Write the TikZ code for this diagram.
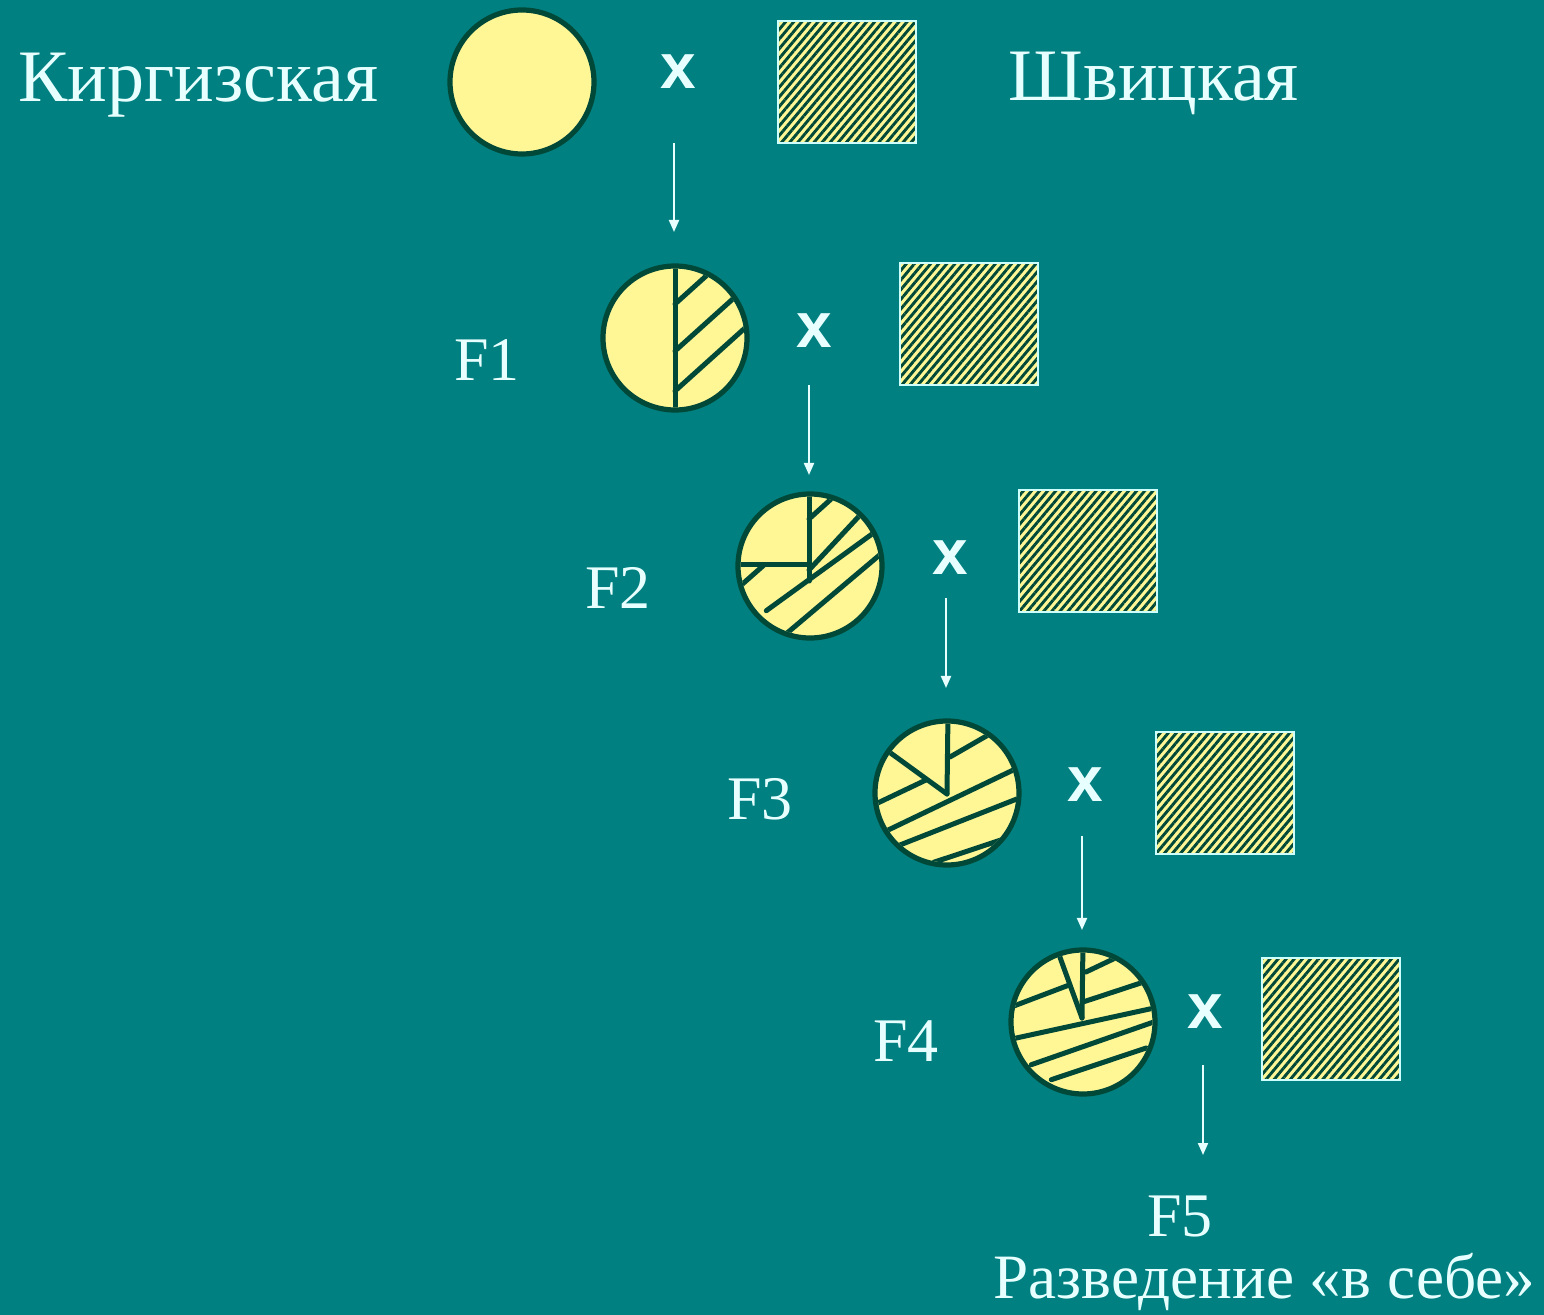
\documentclass[tikz,border=0pt]{standalone}
\usepackage{fontspec}
\setmainfont{Liberation Serif}
\newfontfamily\xsans{Liberation Sans}
\usetikzlibrary{arrows.meta,patterns.meta}
\definecolor{bgteal}{RGB}{0,128,128}
\definecolor{pale}{RGB}{255,246,150}
\definecolor{dkgreen}{RGB}{0,72,56}
\definecolor{txtc}{RGB}{232,255,255}
\definecolor{sqborder}{RGB}{205,255,255}
\begin{document}
\begin{tikzpicture}[x=0.5pt,y=-0.5pt,
  txt/.style={text=txtc, inner sep=0pt, font=\fontsize{37}{40}\selectfont},
  txtb/.style={text=txtc, inner sep=0pt, font=\fontsize{31.6}{34}\selectfont},
  flab/.style={text=txtc, inner sep=0pt, font=\fontsize{31}{34}\selectfont},
  cross/.style={text=txtc, inner sep=0pt, font=\xsans\bfseries\fontsize{32}{34}\selectfont},
  plant/.style={circle, draw=dkgreen, fill=pale, line width=2.6pt, minimum size=72pt, inner sep=0pt},
  hatchbox/.style={rectangle, draw=sqborder, line width=1pt, minimum width=69pt, minimum height=61pt, inner sep=0pt,
    preaction={fill=pale}, pattern={Lines[angle=50,distance=3.1pt,line width=1.45pt]}, pattern color=dkgreen},
  seg/.style={draw=dkgreen, line width=2.5pt, line cap=round},
  arr/.style={draw=txtc, line width=1pt, -{Triangle[length=6pt,width=5pt]}}]
\fill[bgteal] (0,0) rectangle (1544,1315);
\useasboundingbox (0,0) rectangle (1544,1315);

% texts
\node[txt, anchor=base west] (kirg) at (18,102) {Киргизская};
\node[txt, anchor=base west] (shv) at (1008,101) {Швицкая};
\node[flab, anchor=base] (l1) at (487,381) {F1};
\node[flab, anchor=base] (l2) at (618,609) {F2};
\node[flab, anchor=base] (l3) at (760,820) {F3};
\node[flab, anchor=base] (l4) at (906,1062) {F4};
\node[flab, anchor=base] (l5) at (1180,1236) {F5};
\node[txtb, anchor=base west] (razv) at (993,1298) {Разведение «в себе»};

% crosses
\node[cross] (x0) at (678,72) {x};
\node[cross] (x1) at (814,331) {x};
\node[cross] (x2) at (950,558) {x};
\node[cross] (x3) at (1085,785) {x};
\node[cross] (x4) at (1205,1012) {x};

% squares
\node[hatchbox] (s0) at (847,82) {};
\node[hatchbox] (s1) at (969,324) {};
\node[hatchbox] (s2) at (1088,551) {};
\node[hatchbox] (s3) at (1225,793) {};
\node[hatchbox] (s4) at (1331,1019) {};

% circles
\node[plant] (p0) at (522,82) {};
\node[plant] (f1) at (675,338) {};
\node[plant] (f2) at (810,566) {};
\node[plant] (f3) at (947,793) {};
\node[plant] (f4) at (1083,1022) {};

% F1 interior
\begin{scope}[shift={(f1.center)}]
  \clip (0,0) circle (34.7pt);
  \draw[seg] (0,-80) -- (0,80);
  \draw[seg] (0,-34) -- (50,-79);
  \draw[seg] (0,13) -- (80,-59);
  \draw[seg] (0,53) -- (80,-19);
\end{scope}

% F2 interior
\begin{scope}[shift={(f2.center)}]
  \clip (0,0) circle (34.7pt);
  \draw[seg] (-1,-80) -- (-1,15);
  \draw[seg] (-80,-1) -- (-1,-1);
  \draw[seg] (-1,-47) -- (40,-84);
  \draw[seg] (-85,33.5) -- (-46,-1);
  \draw[seg] (-1,4) -- (65,-67);
  \draw[seg] (-43.7,44.7) -- (80,-45);
  \draw[seg] (-30,73) -- (85,-24);
  \draw[seg] (25,78) -- (75,27);
\end{scope}

% F3 interior
\begin{scope}[shift={(f3.center)}]
  \clip (0,0) circle (34.7pt);
  \draw[seg] (1,-80) -- (0,1);
  \draw[seg] (-75,-53.5) -- (0,1);
  \draw[seg] (3,-36) -- (55,-66);
  \draw[seg] (-85,17.5) -- (-21,-13);
  \draw[seg] (-85,49.6) -- (85,-32);
  \draw[seg] (-75,63) -- (85,0);
  \draw[seg] (-13.3,69.3) -- (75,40);
\end{scope}

% F4 interior
\begin{scope}[shift={(f4.center)}]
  \clip (0,0) circle (34.7pt);
  \draw[seg] (0,-80) -- (-1,-4);
  \draw[seg] (-30,-84) -- (-1,-4);
  \draw[seg] (3,-50) -- (45,-70);
  \draw[seg] (-85,-10) -- (-13.8,-37);
  \draw[seg] (0,-20) -- (85,-48);
  \draw[seg] (-85,20) -- (85,-17);
  \draw[seg] (-51.7,42.7) -- (85,-5);
  \draw[seg] (-31.7,57.7) -- (63.3,26);
\end{scope}

% arrows
\coordinate (a0s) at (674,143); \coordinate (a0e) at (674,232);
\coordinate (a1s) at (809,385); \coordinate (a1e) at (809,475);
\coordinate (a2s) at (946,598); \coordinate (a2e) at (946,688);
\coordinate (a3s) at (1082,836); \coordinate (a3e) at (1082,930);
\coordinate (a4s) at (1203,1065); \coordinate (a4e) at (1203,1155);
\draw[arr] (a0s) -- (a0e);
\draw[arr] (a1s) -- (a1e);
\draw[arr] (a2s) -- (a2e);
\draw[arr] (a3s) -- (a3e);
\draw[arr] (a4s) -- (a4e);
\end{tikzpicture}
\end{document}
